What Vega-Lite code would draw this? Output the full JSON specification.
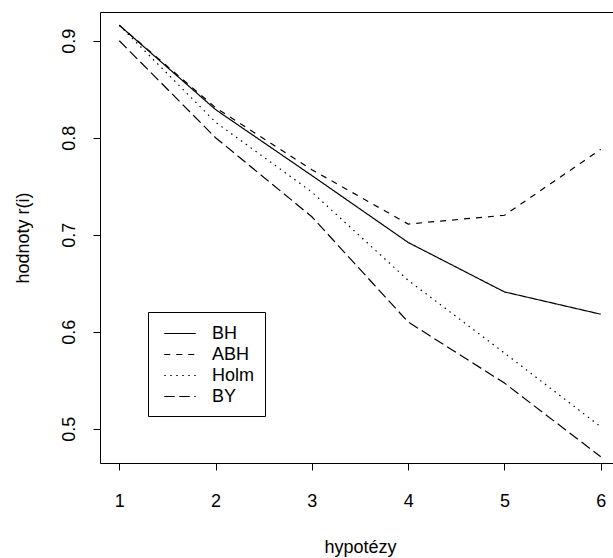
{
  "$schema": "https://vega.github.io/schema/vega-lite/v6.json",
  "width": 520,
  "height": 451,
  "autosize": {"type": "none"},
  "padding": {"left": 100, "top": 12, "right": 0, "bottom": 95},
  "background": "white",
  "config": {
    "view": {"stroke": null},
    "font": "Liberation Sans",
    "axis": {
      "labelFont": "Liberation Sans",
      "titleFont": "Liberation Sans",
      "labelFontSize": 18,
      "titleFontSize": 18,
      "titleFontWeight": "normal",
      "labelColor": "black",
      "titleColor": "black",
      "domainColor": "black",
      "tickColor": "black",
      "domainWidth": 1,
      "tickWidth": 1,
      "grid": false
    }
  },
  "data": {
    "values": [
      {"x": 1, "method": "BH", "value": 0.916},
      {"x": 2, "method": "BH", "value": 0.829},
      {"x": 3, "method": "BH", "value": 0.761},
      {"x": 4, "method": "BH", "value": 0.692},
      {"x": 5, "method": "BH", "value": 0.641},
      {"x": 6, "method": "BH", "value": 0.618},
      {"x": 1, "method": "ABH", "value": 0.916},
      {"x": 2, "method": "ABH", "value": 0.831},
      {"x": 3, "method": "ABH", "value": 0.767},
      {"x": 4, "method": "ABH", "value": 0.711},
      {"x": 5, "method": "ABH", "value": 0.720},
      {"x": 6, "method": "ABH", "value": 0.788},
      {"x": 1, "method": "Holm", "value": 0.916},
      {"x": 2, "method": "Holm", "value": 0.816},
      {"x": 3, "method": "Holm", "value": 0.744},
      {"x": 4, "method": "Holm", "value": 0.653},
      {"x": 5, "method": "Holm", "value": 0.578},
      {"x": 6, "method": "Holm", "value": 0.502},
      {"x": 1, "method": "BY", "value": 0.900},
      {"x": 2, "method": "BY", "value": 0.800},
      {"x": 3, "method": "BY", "value": 0.7185},
      {"x": 4, "method": "BY", "value": 0.610},
      {"x": 5, "method": "BY", "value": 0.547},
      {"x": 6, "method": "BY", "value": 0.471}
    ]
  },
  "layer": [
    {
      "mark": {"type": "line", "color": "black", "strokeWidth": 1.2, "clip": true},
      "encoding": {
        "x": {
          "field": "x", "type": "quantitative",
          "scale": {"domain": [0.8, 6.2], "nice": false, "zero": false},
          "axis": {
            "orient": "bottom",
            "title": "hypotézy",
            "values": [1, 2, 3, 4, 5, 6],
            "tickSize": 7,
            "labelPadding": 36,
            "labelBaseline": "alphabetic",
            "titleY": 89,
            "titleBaseline": "alphabetic"
          }
        },
        "y": {
          "field": "value", "type": "quantitative",
          "scale": {"domain": [0.4646, 0.9296], "nice": false, "zero": false},
          "axis": {
            "title": "hodnoty r(i)",
            "values": [0.5, 0.6, 0.7, 0.8, 0.9],
            "format": ".1f",
            "tickSize": 7,
            "labelAngle": 270,
            "labelAlign": "center",
            "labelBaseline": "alphabetic",
            "labelPadding": 19,
            "titleX": -72,
            "titleBaseline": "alphabetic",
            "titleAngle": 270
          }
        },
        "strokeDash": {
          "field": "method", "type": "nominal",
          "scale": {
            "domain": ["BH", "ABH", "Holm", "BY"],
            "range": [[1, 0], [6, 6], [1.5, 4.5], [10.5, 4.5]]
          },
          "legend": {
            "title": null,
            "orient": "none",
            "legendX": 48,
            "legendY": 300,
            "strokeColor": "black",
            "fillColor": "white",
            "padding": 10,
            "symbolType": "stroke",
            "symbolSize": 441,
            "symbolStrokeColor": "black",
            "symbolStrokeWidth": 1.2,
            "symbolOffset": 10.5,
            "labelOffset": 20.5,
            "labelFont": "Liberation Sans",
            "labelFontSize": 18,
            "labelColor": "black",
            "rowPadding": 0,
            "encode": {
              "symbols": {
                "update": {
                  "shape": {"value": "M-1.5,0H1.5"},
                  "fill": {"value": "transparent"}
                }
              }
            }
          }
        }
      }
    },
    {
      "mark": {"type": "line", "opacity": 0},
      "encoding": {
        "x": {
          "field": "x", "type": "quantitative",
          "axis": {"orient": "top", "title": null, "labels": false, "ticks": false}
        },
        "y": {"field": "value", "type": "quantitative"}
      }
    }
  ],
  "resolve": {"axis": {"x": "independent"}}
}
